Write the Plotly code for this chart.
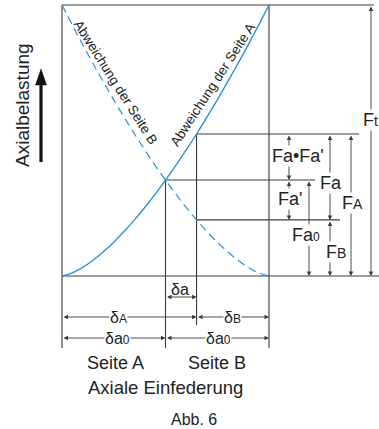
import plotly.graph_objects as go

# ---------------- data ----------------
# axial deflection in units of the preload deflection δa0 (0 .. 2·δa0)
deflection = [0.0, 0.1, 0.2, 0.3, 0.4, 0.5, 0.6, 0.7, 0.8, 0.9, 1.0,
              1.1, 1.2, 1.3, 1.4, 1.5, 1.6, 1.7, 1.8, 1.9, 2.0]
# axial load on side A (rises from the left) and side B (rises from the right)
load_side_A = [0.0, 0.112, 0.316, 0.581, 0.894, 1.25, 1.64, 2.07, 2.53, 3.02, 3.54,
               4.08, 4.65, 5.24, 5.86, 6.50, 7.16, 7.84, 8.54, 9.26, 10.0]
load_side_B = [10.0, 9.26, 8.54, 7.84, 7.16, 6.50, 5.86, 5.24, 4.65, 4.08, 3.54,
               3.02, 2.53, 2.07, 1.64, 1.25, 0.894, 0.581, 0.316, 0.112, 0.0]

delta_a0 = 1.0     # preload deflection (each side)
delta_A = 1.3      # deflection side A under load
delta_B = 0.7      # deflection side B under load
F_t = 10.0         # top load
F_a0 = 3.54        # preload
F_A = 5.24         # load on side A
F_B = 2.07         # load on side B

# ---------------- layout helpers ----------------
W, H = 379, 429
X0_PX, SX = 62.0, 103.5     # pixel of deflection 0, pixels per unit
Y0_PX, SY = 276.0, 27.1     # pixel of load 0, pixels per unit


def px2x(p):
    return (p - X0_PX) / SX


def py2y(p):
    return (Y0_PX - p) / SY


FONT = "Liberation Sans, Arial, Helvetica, sans-serif"
LINE = "#3a3a3a"
TXT = "#222222"
BLUE = "#2a92d6"

fig = go.Figure()

fig.add_trace(go.Scatter(x=deflection, y=load_side_A, mode="lines",
                         line=dict(color=BLUE, width=1.4, shape="spline"),
                         hoverinfo="skip", showlegend=False))
fig.add_trace(go.Scatter(x=deflection, y=load_side_B, mode="lines",
                         line=dict(color=BLUE, width=1.2, dash="8px,5px", shape="spline"),
                         hoverinfo="skip", showlegend=False))

shapes = []


def seg(x0, y0, x1, y1, w=1.1, c=LINE):
    shapes.append(dict(type="line", xref="x", yref="y", x0=x0, y0=y0, x1=x1, y1=y1,
                       line=dict(color=c, width=w), layer="below"))


y_dim_end = py2y(348)
seg(0, F_t, px2x(374), F_t)                      # top line
seg(0, 0, px2x(379), 0)                          # bottom line
seg(0, F_t, 0, y_dim_end)                        # left
seg(2 * delta_a0, F_t, 2 * delta_a0, y_dim_end)  # right
seg(delta_a0, F_a0, delta_a0, y_dim_end)         # middle (preload point)
seg(delta_A, F_A, delta_A, py2y(325))            # loaded position
seg(delta_A, F_A, px2x(359), F_A)                # F_A level
seg(delta_a0, F_a0, px2x(315), F_a0)             # F_a0 level
seg(delta_A, F_B, px2x(340), F_B)                # F_B level

# big arrow on the left (paper coords)
def pxp(p):
    return p / W


def pyp(p):
    return 1 - p / H


shapes.append(dict(type="line", xref="paper", yref="paper",
                   x0=pxp(41), y0=pyp(162), x1=pxp(41), y1=pyp(82),
                   line=dict(color="#111111", width=3.2)))
shapes.append(dict(type="path", xref="paper", yref="paper",
                   path=f"M {pxp(35.5)} {pyp(85)} L {pxp(46.5)} {pyp(85)} L {pxp(41)} {pyp(69)} Z",
                   fillcolor="#111111", line=dict(color="#111111", width=0.5)))

fig.update_layout(shapes=shapes)


def darrow(x0, y0, x1, y1):
    fig.add_annotation(x=x1, y=y1, ax=x0, ay=y0, xref="x", yref="y", axref="x", ayref="y",
                       text="", showarrow=True, arrowhead=2, startarrowhead=2,
                       arrowside="end+start", arrowsize=1.0, startarrowsize=1.0,
                       arrowwidth=0.9, arrowcolor=LINE, standoff=0, startstandoff=0)


# right-hand load arrows
xa1, xa2, xa3, xa4, xa5 = px2x(289), px2x(309), px2x(330), px2x(351), px2x(371)
darrow(xa1, F_A, xa1, F_a0)
darrow(xa1, F_a0, xa1, F_B)
darrow(xa2, F_a0, xa2, 0)
darrow(xa3, F_A, xa3, F_B)
darrow(xa3, F_B, xa3, 0)
darrow(xa4, F_A, xa4, 0)
darrow(xa5, F_t, xa5, 0)

# bottom deflection arrows
yd1, yd2, yd3 = py2y(297), py2y(317), py2y(338)
darrow(delta_a0, yd1, delta_A, yd1)
darrow(0, yd2, delta_A, yd2)
darrow(delta_A, yd2, 2 * delta_a0, yd2)
darrow(0, yd3, delta_a0, yd3)
darrow(delta_a0, yd3, 2 * delta_a0, yd3)


def label(px, py, text, size=18, bg=True, angle=0, color=TXT):
    fig.add_annotation(x=px2x(px), y=py2y(py), xref="x", yref="y", text=text,
                       showarrow=False, xanchor="center", yanchor="middle",
                       textangle=angle, font=dict(family=FONT, size=size, color=color),
                       bgcolor="white" if bg else "rgba(0,0,0,0)", borderpad=0)


def small(t, s=13):
    return f"<span style='font-size:{s}px'>{t}</span>"


label(298, 156, "Fa•Fa'")
label(290, 199, "Fa'")
label(306, 235, "Fa" + small("0", 12))
label(331, 183, "Fa")
label(336, 252, "F" + small("B", 14))
label(352, 203, "F" + small("A", 14))
label(370, 120, "F" + small("t", 14))

label(118, 317, "δ" + small("A", 12), size=16)
label(232, 317, "δ" + small("B", 12), size=16)
label(117, 338, "δa" + small("0", 12), size=16)
label(218, 338, "δa" + small("0", 12), size=16)
label(180, 289, "δa", size=16, bg=False)

label(115, 363, "Seite A", size=18, bg=False)
label(217, 363, "Seite B", size=18, bg=False)
label(165, 387, "Axiale Einfederung", size=18.5, bg=False)
label(194, 419, "Abb. 6", size=16, bg=False)

label(22, 105, "Axialbelastung", size=19, bg=False, angle=-90)
label(116, 82, "Abweichung der Seite B", size=13.5, bg=False, angle=57.6)
label(212, 85, "Abweichung der Seite A", size=13.5, bg=False, angle=-57)

fig.update_layout(
    width=W, height=H,
    margin=dict(l=0, r=0, t=0, b=0),
    paper_bgcolor="white", plot_bgcolor="white",
    xaxis=dict(range=[px2x(0), px2x(W)], visible=False, fixedrange=True),
    yaxis=dict(range=[py2y(H), py2y(0)], visible=False, fixedrange=True),
    showlegend=False,
)

fig.write_html("out.html", config={"displayModeBar": False},
               post_script="document.body.style.margin='0';document.body.style.overflow='hidden';")
